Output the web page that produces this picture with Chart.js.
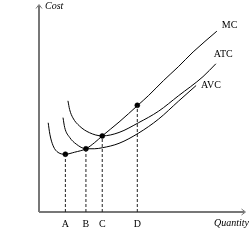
<!DOCTYPE html>
<html>
<head>
<meta charset="utf-8">
<title>Cost curves</title>
<script src="https://cdn.jsdelivr.net/npm/chart.js@4.4.1/dist/chart.umd.min.js"></script>
<style>
    html, body { margin: 0; padding: 0; background: #fff; }
    #costChart { display: block; }
</style>
</head>
<body>
<canvas id="costChart" width="250" height="250"></canvas>
<script>
// Curve data (quantity, cost)
const mcQty   = [9.3, 11, 14.3, 19.3, 26.7, 36, 47.5, 56, 64, 81, 100, 111, 126, 141, 156, 180];
const mcCost  = [90.3, 78.7, 67, 60.3, 58.5, 60.5, 64, 70, 77, 91, 108, 118, 133, 147, 162, 183];

const atcQty  = [29.3, 31, 34.3, 41, 51, 64, 81, 101, 121, 141, 166, 179];
const atcCost = [112.5, 103.7, 95.3, 87, 80.3, 77, 80.5, 90.5, 102, 117.5, 137, 150];

const avcQty  = [24.3, 26, 31, 37.7, 47.5, 56, 64, 81, 101, 121, 141, 159];
const avcCost = [95.5, 85.5, 75.5, 68.7, 64, 64, 65, 69.5, 80, 94, 112, 128];

// Marked points and their quantity labels
const markLabels = ['A', 'B', 'C', 'D'];
const markQty    = [26.7, 47.5, 64, 99.5];
const markCost   = [58.5, 64, 77, 108];

const curveNames = ['MC', 'ATC', 'AVC'];

let costChart = null;

/**
 * Zip two arrays into {x, y} points
 */
function toPoints(xs, ys) {
    return xs.map((x, i) => ({ x: x, y: ys[i] }));
}

/**
 * Axes with arrow heads, axis titles, tick letters and curve names
 */
const decorPlugin = {
    id: 'decor',
    beforeDatasetsDraw(chart) {
        const ctx = chart.ctx;
        const area = chart.chartArea;
        ctx.save();
        ctx.strokeStyle = '#777';
        ctx.lineWidth = 2;
        ctx.beginPath();
        ctx.moveTo(area.left, area.bottom);
        ctx.lineTo(area.left, area.top + 1);
        ctx.moveTo(area.left, area.bottom);
        ctx.lineTo(area.right - 1, area.bottom);
        ctx.stroke();

        // arrow heads
        ctx.lineWidth = 1;
        ctx.beginPath();
        ctx.moveTo(area.left - 3, area.top + 4);
        ctx.lineTo(area.left, area.top);
        ctx.lineTo(area.left + 3, area.top + 4);
        ctx.moveTo(area.right - 4, area.bottom - 3);
        ctx.lineTo(area.right, area.bottom);
        ctx.lineTo(area.right - 4, area.bottom + 3);
        ctx.stroke();
        ctx.restore();
    },
    afterDraw(chart) {
        const ctx = chart.ctx;
        const area = chart.chartArea;
        const xs = chart.scales.x;
        const ys = chart.scales.y;
        ctx.save();
        ctx.fillStyle = '#000';
        ctx.textBaseline = 'middle';

        ctx.font = 'italic 10px "Liberation Serif", serif';
        ctx.textAlign = 'left';
        ctx.fillText('Cost', area.left + 6, 6);
        ctx.textAlign = 'right';
        ctx.fillText('Quantity', 249, area.bottom + 11);

        ctx.font = '10px "Liberation Serif", serif';
        ctx.textAlign = 'center';
        markLabels.forEach((lab, i) => {
            ctx.fillText(lab, xs.getPixelForValue(markQty[i]), area.bottom + 12);
        });

        // curve names next to the end of each curve
        ctx.textAlign = 'left';
        const ends = [
            [mcQty[mcQty.length - 1], mcCost[mcCost.length - 1], 5, -6],
            [atcQty[atcQty.length - 1], atcCost[atcCost.length - 1], -2, -9],
            [avcQty[avcQty.length - 1], avcCost[avcCost.length - 1], 5, 0]
        ];
        ends.forEach((e, i) => {
            ctx.fillText(curveNames[i], xs.getPixelForValue(e[0]) + e[2], ys.getPixelForValue(e[1]) + e[3]);
        });
        ctx.restore();
    }
};

/**
 * Build the chart
 */
function initializeCostChart() {
    const canvas = document.getElementById('costChart');

    const curveStyle = {
        showLine: true,
        borderColor: '#000',
        borderWidth: 1,
        pointRadius: 0,
        cubicInterpolationMode: 'monotone',
        fill: false
    };

    const datasets = [
        Object.assign({ label: curveNames[0], data: toPoints(mcQty, mcCost) }, curveStyle),
        Object.assign({ label: curveNames[1], data: toPoints(atcQty, atcCost) }, curveStyle),
        Object.assign({ label: curveNames[2], data: toPoints(avcQty, avcCost) }, curveStyle)
    ];

    // dashed drop lines to the quantity axis
    markQty.forEach((q, i) => {
        datasets.push({
            label: markLabels[i],
            data: [{ x: q, y: 0 }, { x: q, y: markCost[i] }],
            showLine: true,
            borderColor: '#222',
            borderWidth: 1,
            borderDash: [3, 2],
            pointRadius: 0
        });
    });

    datasets.push({
        label: 'points',
        data: toPoints(markQty, markCost),
        showLine: false,
        pointRadius: 2.5,
        pointBorderWidth: 0.5,
        pointBackgroundColor: '#000',
        pointBorderColor: '#000'
    });

    costChart = new Chart(canvas, {
        type: 'scatter',
        data: { datasets: datasets },
        options: {
            responsive: false,
            animation: false,
            layout: { padding: { left: 39, top: 2, right: 2, bottom: 38 } },
            plugins: {
                legend: { display: false },
                tooltip: { enabled: false }
            },
            scales: {
                x: { type: 'linear', min: 0, max: 209, display: false },
                y: { type: 'linear', min: 0, max: 210, display: false }
            }
        },
        plugins: [decorPlugin]
    });
}

initializeCostChart();
</script>
</body>
</html>
